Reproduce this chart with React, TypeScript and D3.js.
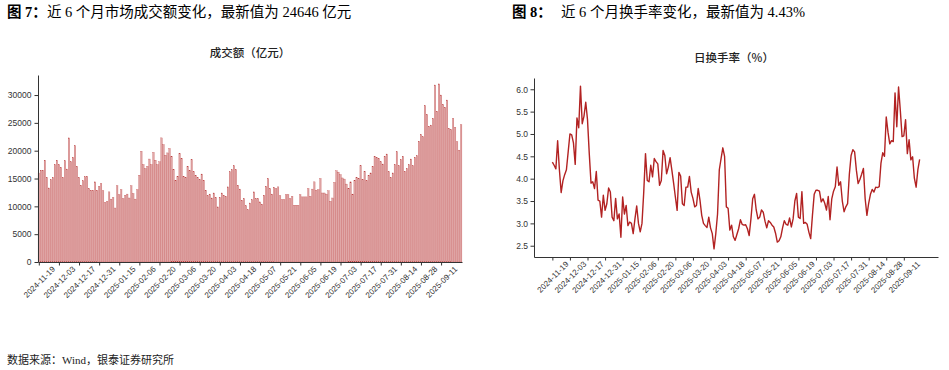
import React, { useEffect, useRef } from "react";
import * as d3 from "d3";

// x 轴日期标签（每 10 个交易日一个）
const dateTicks = [
  "2024-11-19", "2024-12-03", "2024-12-17", "2024-12-31", "2025-01-15",
  "2025-02-06", "2025-02-20", "2025-03-06", "2025-03-20", "2025-04-03",
  "2025-04-18", "2025-05-07", "2025-05-21", "2025-06-05", "2025-06-19",
  "2025-07-03", "2025-07-17", "2025-07-31", "2025-08-14", "2025-08-28",
  "2025-09-11",
];

// 成交额（亿元），每个交易日一根柱子
const turnover: number[] = [
  16000, 16500, 16500, 18300, 15200, 13300, 14800, 15200, 17500, 18300,
  17500, 17000, 15200, 18200, 16700, 22300, 18000, 18800, 20900, 17200,
  15200, 13800, 14600, 15300, 15400, 13200, 12900, 12900, 14400, 12900,
  13600, 14100, 12800, 10700, 10900, 12600, 11300, 11600, 9700, 13700,
  12100, 13000, 11400, 12000, 12200, 11500, 13700, 12300, 11300, 13000,
  15600, 19900, 17500, 16800, 17200, 18500, 17500, 19700, 18300, 17500,
  18000, 22300, 21100, 19200, 19600, 20400, 19000, 16600, 14700, 15400,
  19500, 18600, 15400, 15200, 17200, 16500, 18400, 16200, 15600, 15200,
  14800, 15800, 14700, 12900, 11900, 12200, 11500, 12400, 11600, 9900,
  11600, 12400, 12000, 11800, 13500, 16200, 16600, 17300, 16600, 13800,
  13100, 11100, 11400, 10100, 9400, 10600, 11200, 12600, 11400, 11400,
  10800, 10400, 12000, 13600, 15000, 13200, 12200, 13400, 13200, 13500,
  11900, 11200, 11200, 12100, 12100, 11400, 11800, 10200, 10200, 10200,
  12100, 11700, 11700, 11700, 13200, 11800, 13100, 14400, 12900, 13000,
  15000, 12400, 12400, 12200, 12800, 10900, 11500, 14300, 16400, 16150,
  15700, 15100, 14900, 14000, 13200, 14400, 12200, 14700, 15200, 15000,
  17300, 14800, 16300, 14600, 15600, 16000, 17200, 19000, 18800, 18600,
  18000, 17600, 19000, 19400, 16200, 15200, 16000, 17500, 19800, 17300,
  18400, 19000, 16300, 16800, 17500, 18500, 17300, 18800, 19100, 21700,
  22900, 22500, 28100, 26500, 24400, 24600, 25800, 31800, 27100, 32000,
  30000, 28300, 27800, 29100, 24000, 23800, 25800, 24200, 21600, 20100,
  24646,
];

// 日换手率（%）
const turnoverRate: number[] = [
  4.37, 4.30, 4.22, 4.85, 4.20, 3.69, 3.95, 4.09, 4.20, 4.60,
  5.00, 4.98, 4.80, 4.32, 5.36, 5.14, 6.07, 5.23, 5.40, 5.71,
  5.32, 4.56, 3.90, 3.93, 3.78, 4.16, 3.52, 3.50, 3.14, 3.63,
  3.29, 3.44, 3.79, 3.70, 3.14, 3.06, 3.56, 3.10, 3.21, 2.69,
  3.59, 3.21, 3.40, 2.95, 3.03, 3.00, 2.77, 3.10, 3.39, 3.00,
  2.81, 3.00, 3.70, 4.56, 3.96, 3.93, 4.30, 4.04, 4.45, 4.38,
  4.33, 3.85, 3.96, 4.63, 4.52, 4.11, 4.26, 4.47, 4.19, 3.90,
  3.59, 3.29, 4.14, 4.06, 3.44, 3.40, 3.81, 3.81, 4.05, 3.70,
  3.56, 3.37, 3.40, 3.78, 3.52, 3.18, 3.00, 2.95, 2.91, 3.14,
  2.90, 2.77, 2.43, 2.77, 3.21, 4.20, 4.45, 4.69, 4.50, 3.37,
  3.34, 2.85, 2.96, 2.70, 2.62, 2.75, 2.88, 3.08, 2.98, 2.96,
  2.97, 2.88, 2.73, 3.10, 3.55, 3.65, 3.30, 3.10, 3.14, 3.30,
  3.25, 3.05, 2.90, 3.06, 3.02, 2.96, 2.92, 2.78, 2.58, 2.61,
  2.70, 2.90, 3.06, 2.98, 2.96, 3.12, 2.92, 3.10, 3.50, 3.67,
  3.14, 3.11, 3.71, 3.00, 3.02, 2.98, 2.80, 2.66, 3.18, 3.65,
  3.74, 3.74, 3.72, 3.48, 3.55, 3.45, 3.30, 3.60, 3.08, 3.55,
  3.72, 3.82, 4.26, 3.85, 3.93, 3.50, 3.26, 3.37, 3.44, 4.10,
  4.52, 4.65, 4.60, 4.19, 3.89, 3.98, 4.10, 4.23, 3.55, 3.18,
  3.45, 3.65, 3.76, 3.70, 3.81, 3.80, 3.82, 4.35, 4.58, 4.50,
  5.38, 5.04, 4.78, 4.85, 4.83, 5.92, 5.16, 6.05, 5.53, 4.94,
  4.96, 5.32, 4.56, 4.87, 4.42, 4.49, 4.01, 3.81, 4.20, 4.43,
];

const amountTicks = [0, 5000, 10000, 15000, 20000, 25000, 30000];
const rateTicks = [2.5, 3.0, 3.5, 4.0, 4.5, 5.0, 5.5, 6.0];

const W = 949;
const H = 370;
const RED = "#b22222";
const AXIS = "#333";
const serif = "'Liberation Serif', 'Times New Roman', 'Noto Sans CJK SC', serif";
const sans = "'Noto Sans CJK SC', 'Liberation Sans', sans-serif";
const tickFont = "'Liberation Sans', Arial, sans-serif";

// 旋转 45 度的日期标签
const styleDateAxis = (g: d3.Selection<SVGGElement, unknown, null, undefined>) => {
  g.select(".domain").attr("stroke", AXIS);
  g.selectAll(".tick line").attr("stroke", AXIS);
  g.selectAll<SVGTextElement, number>(".tick text")
    .attr("x", 0)
    .attr("y", 0)
    .attr("dy", "0.35em")
    .attr("text-anchor", "middle")
    .attr("transform", "translate(0,20) rotate(-45)")
    .attr("fill", "#333")
    .style("font-family", tickFont)
    .style("font-size", "8px");
};

const styleValueAxis = (g: d3.Selection<SVGGElement, unknown, null, undefined>) => {
  g.select(".domain").attr("stroke", AXIS);
  g.selectAll(".tick line").attr("stroke", AXIS);
  g.selectAll(".tick text")
    .attr("fill", "#333")
    .style("font-family", tickFont)
    .style("font-size", "8.5px");
};

export default function App() {
  const svgRef = useRef<SVGSVGElement>(null);

  useEffect(() => {
    if (!svgRef.current) return;
    const svg = d3.select(svgRef.current);
    svg.selectAll("*").remove();

    svg.append("rect").attr("width", W).attr("height", H).attr("fill", "#fff");

    // ---------- 左图：成交额柱状图 ----------
    const left = { x0: 38, x1: 462, y0: 75, y1: 262 };
    const xBar = d3.scaleLinear().domain([-0.4, turnover.length - 0.6]).range([left.x0, left.x1]);
    const yBar = d3.scaleLinear().domain([0, 33600]).range([left.y1, left.y0]);
    const barW = xBar(0.7) - xBar(0);

    svg
      .append("g")
      .selectAll("rect")
      .data(turnover)
      .enter()
      .append("rect")
      .attr("x", (_, i) => xBar(i) - barW / 2)
      .attr("y", (d) => yBar(d))
      .attr("width", barW)
      .attr("height", (d) => yBar(0) - yBar(d))
      .attr("fill", RED)
      .attr("fill-opacity", 0.4)
      .attr("stroke", RED)
      .attr("stroke-width", 0.3)
      .attr("stroke-opacity", 0.8);

    svg
      .append("g")
      .attr("transform", `translate(0,${left.y1})`)
      .call(
        d3
          .axisBottom(xBar)
          .tickValues(dateTicks.map((_, i) => i * 10))
          .tickFormat((d) => dateTicks[(d as number) / 10])
          .tickSize(3.5)
          .tickSizeOuter(0)
      )
      .call(styleDateAxis);

    svg
      .append("g")
      .attr("transform", `translate(${left.x0},0)`)
      .call(d3.axisLeft(yBar).tickValues(amountTicks).tickFormat(d3.format("d")).tickSize(3.5).tickPadding(3).tickSizeOuter(0))
      .call(styleValueAxis);

    // ---------- 右图：换手率折线 ----------
    const right = { x0: 534, x1: 938, y0: 78, y1: 257 };
    const xLine = d3.scaleLinear().domain([-10.45, 219.45]).range([right.x0, right.x1]);
    const yLine = d3.scaleLinear().domain([2.248, 6.252]).range([right.y1, right.y0]);

    const line = d3
      .line<number>()
      .x((_, i) => xLine(i))
      .y((d) => yLine(d));

    svg
      .append("path")
      .datum(turnoverRate)
      .attr("fill", "none")
      .attr("stroke", RED)
      .attr("stroke-width", 1.4)
      .attr("stroke-linejoin", "round")
      .attr("d", line);

    svg
      .append("g")
      .attr("transform", `translate(0,${right.y1})`)
      .call(
        d3
          .axisBottom(xLine)
          .tickValues(dateTicks.map((_, i) => i * 10))
          .tickFormat((d) => dateTicks[(d as number) / 10])
          .tickSize(3.5)
          .tickSizeOuter(0)
      )
      .call(styleDateAxis);

    svg
      .append("g")
      .attr("transform", `translate(${right.x0},0)`)
      .call(d3.axisLeft(yLine).tickValues(rateTicks).tickFormat(d3.format(".1f")).tickSize(3.5).tickPadding(2.5).tickSizeOuter(0))
      .call(styleValueAxis);

    // ---------- 文字 ----------
    const fig7 = svg.append("text").attr("x", 7).attr("y", 17).style("font-family", serif).style("font-size", "14.5px").attr("fill", "#000");
    fig7.append("tspan").style("font-weight", "bold").text("图 7：");
    fig7.append("tspan").text("近 6 个月市场成交额变化，最新值为 24646 亿元");

    svg.append("text").attr("x", 512).attr("y", 17).style("font-family", serif).style("font-size", "14.5px").style("font-weight", "bold").text("图 8：");
    svg.append("text").attr("x", 561).attr("y", 17).style("font-family", serif).style("font-size", "14.5px").text("近 6 个月换手率变化，最新值为 4.43%");

    svg.append("text").attr("x", 250).attr("y", 57).attr("text-anchor", "middle").style("font-family", sans).style("font-size", "11.5px").style("font-weight", 500).attr("fill", "#222").text("成交额（亿元）");
    svg.append("text").attr("x", 734).attr("y", 62).attr("text-anchor", "middle").style("font-family", sans).style("font-size", "11.5px").style("font-weight", 500).attr("fill", "#222").text("日换手率（%）");

    svg.append("text").attr("x", 7).attr("y", 364).style("font-family", serif).style("font-size", "11px").attr("fill", "#222").text("数据来源：Wind，银泰证券研究所");
  }, []);

  return (
    <svg
      ref={svgRef}
      width={W}
      height={H}
      style={{ position: "absolute", left: 0, top: 0, display: "block" }}
    />
  );
}
